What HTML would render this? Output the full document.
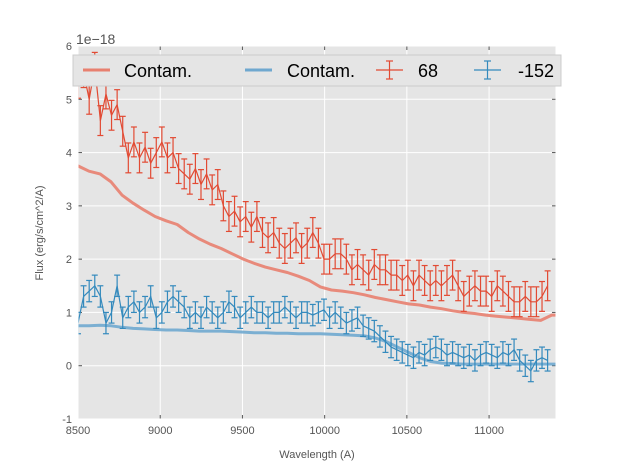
<!DOCTYPE html>
<html><head><meta charset="utf-8"><style>
body{margin:0;background:#fff;font-family:"Liberation Sans",sans-serif}
</style></head><body>
<svg id="c" width="617" height="467" xmlns="http://www.w3.org/2000/svg"></svg>
<script>
const redStart=8500, redStep=34;
const redFlux=[5.3,5.5,5.0,5.6,4.6,5.1,4.7,4.9,4.4,3.9,4.2,3.9,4.1,3.8,4.0,4.2,3.9,4.0,3.7,3.6,3.5,3.7,3.4,3.6,3.3,3.4,3.0,2.8,2.9,2.7,2.8,2.6,2.8,2.5,2.4,2.5,2.3,2.2,2.3,2.4,2.2,2.3,2.5,2.3,2.0,2.0,2.1,2.1,2.0,1.8,1.9,1.8,1.7,1.9,1.8,1.8,1.7,1.7,1.6,1.7,1.5,1.7,1.6,1.5,1.6,1.5,1.6,1.7,1.5,1.3,1.4,1.5,1.4,1.4,1.3,1.5,1.4,1.3,1.2,1.2,1.3,1.2,1.2,1.3,1.5];
const redErr=0.28;
const blueFlux=[0.8,1.3,1.4,1.5,1.3,0.8,1.0,1.5,0.9,1.1,1.2,1.0,1.1,1.3,0.9,1.0,1.2,1.3,1.2,1.1,0.9,1.0,0.9,1.1,1.0,0.9,1.0,1.2,1.1,0.9,1.0,1.1,1.0,1.0,0.9,1.0,1.0,1.1,1.0,0.9,1.0,1.0,0.95,1.0,1.05,0.9,1.0,0.9,0.8,0.85,0.9,0.75,0.7,0.65,0.55,0.45,0.35,0.3,0.25,0.2,0.15,0.25,0.2,0.3,0.35,0.3,0.2,0.25,0.2,0.15,0.2,0.1,0.2,0.25,0.2,0.15,0.25,0.2,0.3,0.1,0.0,-0.1,0.1,0.15,0.1];
const blueErr=0.2;
const contStart=8500, contStep=67;
const redContam=[3.75,3.65,3.6,3.45,3.2,3.05,2.92,2.8,2.72,2.65,2.5,2.38,2.28,2.2,2.1,2.0,1.92,1.85,1.8,1.75,1.68,1.6,1.48,1.42,1.4,1.37,1.33,1.28,1.24,1.2,1.16,1.14,1.1,1.07,1.03,1.0,0.98,0.95,0.93,0.91,0.89,0.87,0.85,0.95,0.95];
const blueContam=[0.75,0.75,0.76,0.75,0.72,0.7,0.69,0.68,0.67,0.67,0.66,0.65,0.65,0.65,0.64,0.63,0.62,0.62,0.61,0.61,0.6,0.6,0.6,0.59,0.58,0.57,0.56,0.52,0.45,0.35,0.25,0.15,0.08,0.05,0.04,0.03,0.03,0.03,0.03,0.03,0.03,0.03,0.03,0.03,0.03];
const xTicks=[8500,9000,9500,10000,10500,11000];
const yTicks=[-1,0,1,2,3,4,5,6];

const L=78,R=556,T=46,B=419,XMIN=8500,XMAX=11407,YMIN=-1,YMAX=6;
const sx=v=>L+(v-XMIN)/(XMAX-XMIN)*(R-L);
const sy=v=>B-(v-YMIN)/(YMAX-YMIN)*(B-T);
const svg=document.getElementById('c');
const NS='http://www.w3.org/2000/svg';
function mk(tag,attrs,parent){const e=document.createElementNS(NS,tag);for(const k in attrs)e.setAttribute(k,attrs[k]);(parent||svg).appendChild(e);return e;}
const clip=mk('clipPath',{id:'pc'});mk('rect',{x:L,y:T,width:R-L,height:B-T},clip);
const bg=mk('rect',{x:L,y:T,width:R-L,height:B-T,fill:'#e5e5e5'});


xTicks.forEach(t=>{
  const g=mk('line',{x1:sx(t),x2:sx(t),y1:T,y2:B,stroke:'#fff','stroke-width':1});
  
  
  mk('line',{x1:sx(t),x2:sx(t),y1:B,y2:B-4,stroke:'#555'});
  mk('line',{x1:sx(t),x2:sx(t),y1:T,y2:T+4,stroke:'#555'});
  const tx=mk('text',{x:sx(t),y:B+15,'text-anchor':'middle','font-size':11,fill:'#555'});tx.textContent=t;
  
  
});
yTicks.forEach(t=>{
  const g=mk('line',{x1:L,x2:R,y1:sy(t),y2:sy(t),stroke:'#fff','stroke-width':1});
  
  
  mk('line',{x1:L,x2:L+4,y1:sy(t),y2:sy(t),stroke:'#555'});
  mk('line',{x1:R,x2:R-4,y1:sy(t),y2:sy(t),stroke:'#555'});
  const tx=mk('text',{x:L-6,y:sy(t)+4,'text-anchor':'end','font-size':11,fill:'#555'});tx.textContent=t;
  
  
});
const pg=mk('g',{'clip-path':'url(#pc)'});
function line(arr,start,step,color,w,op,name){
  const d=arr.map((v,i)=>(i?'L':'M')+sx(start+i*step).toFixed(1)+' '+sy(v).toFixed(1)).join(' ');
  const p=mk('path',{d,fill:'none',stroke:color,'stroke-width':w,'stroke-opacity':op,'stroke-linejoin':'round'},pg);
  
  
}
function errs(arr,err,color,name){
  const g=mk('g',{stroke:color,'stroke-width':1.2},pg);
  
  
  arr.forEach((v,i)=>{const x=sx(redStart+i*redStep);
    mk('line',{x1:x,x2:x,y1:sy(v-err),y2:sy(v+err)},g);
    mk('line',{x1:x-3,x2:x+3,y1:sy(v-err),y2:sy(v-err)},g);
    mk('line',{x1:x-3,x2:x+3,y1:sy(v+err),y2:sy(v+err)},g);});
  line(arr,redStart,redStep,color,1.2,1,name+'-line');
}
line(redContam,contStart,contStep,'#E8806F',3,0.9,'red-contam-line');
line(blueContam,contStart,contStep,'#6FA8CF',3,0.9,'blue-contam-line');
errs(redFlux,redErr,'#E24A33','red-flux-68');
errs(blueFlux,blueErr,'#348ABD','blue-flux-152');
mk('rect',{x:L,y:T,width:R-L,height:B-T,fill:'none',stroke:'#fff'});
</script>
<svg width="617" height="467" style="position:absolute;left:0;top:0" xmlns="http://www.w3.org/2000/svg">
<text x="76" y="44" font-size="14" fill="#555">1e−18</text>
<text x="317" y="458" font-size="11" fill="#555" text-anchor="middle">Wavelength (A)</text>
<text x="43" y="233" font-size="11" fill="#555" text-anchor="middle" transform="rotate(-90 43 233)">Flux (erg/s/cm^2/A)</text>
<g>
<rect x="73" y="55" width="488" height="31" fill="#e5e5e5" stroke="#ccc"/>
<g><line x1="83" x2="110" y1="70" y2="70" stroke="#E8806F" stroke-width="3"/><text x="124" y="77" font-size="18" fill="#000">Contam.</text></g>
<g><line x1="245" x2="272" y1="70" y2="70" stroke="#6FA8CF" stroke-width="3"/><text x="287" y="77" font-size="18" fill="#000">Contam.</text></g>
<g stroke="#E24A33" stroke-width="1.2"><line x1="376" x2="403" y1="70" y2="70"/><line x1="389.5" x2="389.5" y1="61" y2="79"/><line x1="386" x2="393" y1="61" y2="61"/><line x1="386" x2="393" y1="79" y2="79"/><text x="418" y="77" font-size="18" fill="#000" stroke="none">68</text></g>
<g stroke="#348ABD" stroke-width="1.2"><line x1="474" x2="501" y1="70" y2="70"/><line x1="487.5" x2="487.5" y1="61" y2="79"/><line x1="484" x2="491" y1="61" y2="61"/><line x1="484" x2="491" y1="79" y2="79"/><text x="518" y="77" font-size="18" fill="#000" stroke="none">-152</text></g>
</g>
</svg>
</body></html>
